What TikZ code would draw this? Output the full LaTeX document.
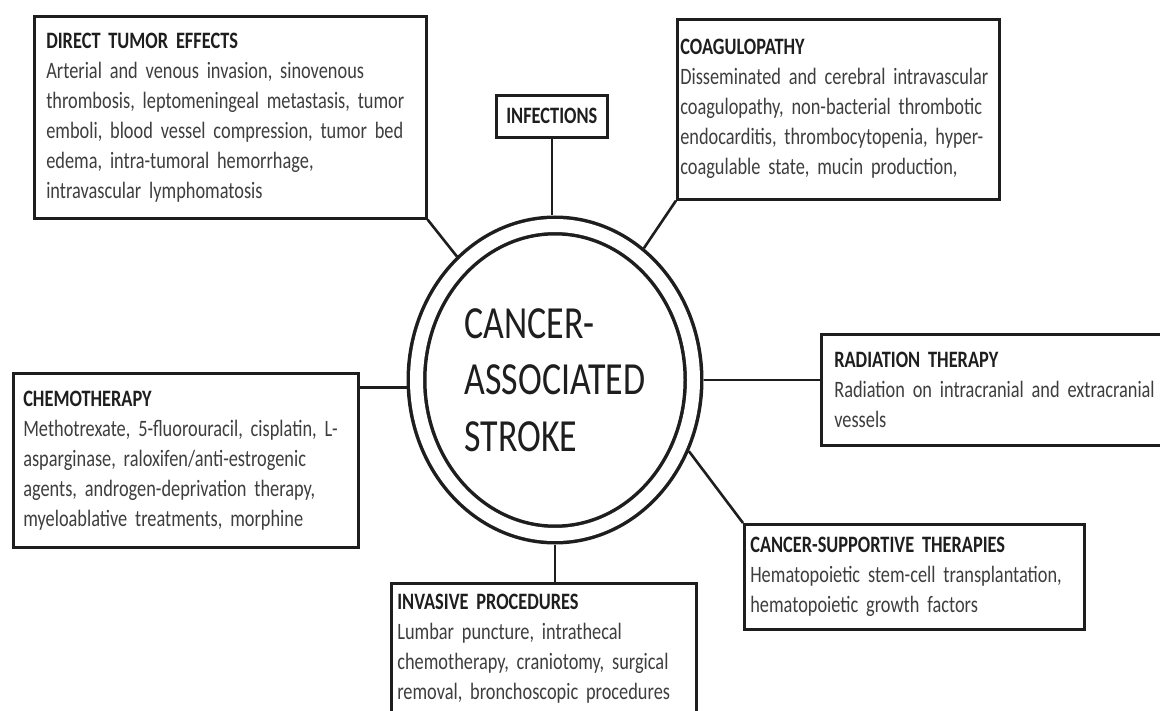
\documentclass[tikz,border=0pt]{standalone}
\usepackage{fontspec}
\setmainfont{Carlito}[FakeStretch=0.78]
\usepackage{tikz}
\usetikzlibrary{shapes.geometric, positioning, calc}
\definecolor{inkdark}{RGB}{30,30,30}
\definecolor{inkbody}{RGB}{62,62,62}
\newcommand{\causehead}[1]{\textcolor{inkdark}{\textbf{#1}}}

\begin{document}
\begin{tikzpicture}[x=1pt, y=-1pt,
  every node/.style={font=\fontsize{23.5}{30}\selectfont},
  causebox/.style={draw=inkdark, line width=2.6pt, fill=white, anchor=north west,
                   align=left, text=inkbody, inner ysep=6pt},
  ring/.style={ellipse, draw=inkdark, line width=3.5pt, double, double distance=13pt,
               minimum width=277pt, minimum height=309pt, inner sep=0pt, outer sep=10pt,
               align=left, text=inkdark, font=\fontsize{46}{56.5}\selectfont},
  conn/.style={draw=inkdark, line width=2.6pt},
]

%% ── FRAME ─────────────────────────────────────────────────────────────
\path[use as bounding box] (0,0) rectangle (1160,711);
\clip (0,0) rectangle (1160,711);

%% ── CENTRE ────────────────────────────────────────────────────────────
\node[ring] (core) at (555,380) {CANCER-\\ASSOCIATED\\STROKE};

%% ── CAUSES (top) ──────────────────────────────────────────────────────
\node[causebox, text width=368pt, inner xsep=12pt, minimum height=202pt]
  (tumor) at (33,15)
  {\causehead{DIRECT TUMOR EFFECTS}\\
   Arterial and venous invasion, sinovenous\\
   thrombosis, leptomeningeal metastasis, tumor\\
   emboli, blood vessel compression, tumor bed\\
   edema, intra-tumoral hemorrhage,\\
   intravascular lymphomatosis};

\node[causebox, align=center, inner xsep=8pt, minimum width=111pt, minimum height=42pt]
  (infect) at (495,94) {\causehead{INFECTIONS}};

\node[causebox, text width=316pt, inner xsep=3pt, minimum height=180pt]
  (coag) at (676,18)
  {\causehead{COAGULOPATHY}\\
   Disseminated and cerebral intravascular\\
   coagulopathy, non-bacterial thrombotic\\
   endocarditis, thrombocytopenia, hyper-\\
   coagulable state, mucin production,};

%% ── CAUSES (sides) ────────────────────────────────────────────────────
\node[causebox, text width=325pt, inner xsep=10pt, minimum height=174pt]
  (chemo) at (12,372)
  {\causehead{CHEMOTHERAPY}\\
   Methotrexate, 5-fluorouracil, cisplatin, L-\\
   asparginase, raloxifen/anti-estrogenic\\
   agents, androgen-deprivation therapy,\\
   myeloablative treatments, morphine};

\node[causebox, text width=334pt, inner xsep=13pt, minimum height=111pt]
  (radia) at (820,333)
  {\causehead{RADIATION THERAPY}\\
   Radiation on intracranial and extracranial\\
   vessels};

%% ── CAUSES (bottom) ───────────────────────────────────────────────────
\node[causebox, text width=328pt, inner xsep=6pt, minimum height=105pt]
  (support) at (743,523)
  {\causehead{CANCER-SUPPORTIVE THERAPIES}\\
   Hematopoietic stem-cell transplantation,\\
   hematopoietic growth factors};

\node[causebox, text width=293pt, inner xsep=6pt, minimum height=130pt]
  (invas) at (390,582)
  {\causehead{INVASIVE PROCEDURES}\\
   Lumbar puncture, intrathecal\\
   chemotherapy, craniotomy, surgical\\
   removal, bronchoscopic procedures};

%% ── CONNECTORS ────────────────────────────────────────────────────────
\draw[conn] (tumor.south east) -- (core);
\draw[conn] (infect.south) -- (infect.south |- core.north);
\draw[conn] (coag.south west) -- (core);
\draw[conn] (core.183) -- (core.183 -| chemo.east);
\draw[conn] (core.east) -- (core.east -| radia.west);
\draw[conn] (core.-28) -- (support.north west);
\draw[conn] (core.south) -- (core.south |- invas.north);

\end{tikzpicture}
\end{document}
